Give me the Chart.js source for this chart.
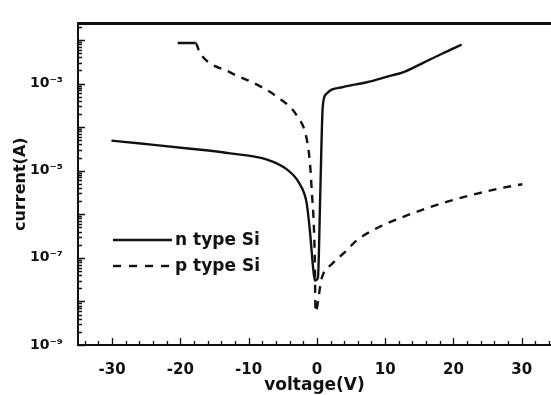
<!DOCTYPE html>
<html>
<head>
<meta charset="utf-8">
<script src="https://cdn.jsdelivr.net/npm/chart.js@4.4.1/dist/chart.umd.min.js"></script>
<style>
  html, body { margin: 0; padding: 0; background: #fff; }
</style>
</head>
<body>
<canvas id="chart" width="551" height="395"></canvas>
<script>
// I-V curves
const nVoltage = [-30.1, -25.8, -18.5, -12.7, -7.3, -4.4, -2.5, -1.5, -1.0, -0.6, -0.3, 0.15, 0.5, 0.85, 1.3, 3.8, 7.3, 10.7, 12.6, 15.5, 18.4, 21.2];
const nCurrent = [4.9e-5, 4.2e-5, 3.2e-5, 2.5e-5, 1.8e-5, 1.07e-5, 4.9e-6, 1.8e-6, 3.8e-7, 7.1e-8, 3.0e-8, 3.5e-8, 3.2e-6, 2.8e-4, 5.6e-4, 8.3e-4, 1.07e-3, 1.5e-3, 1.8e-3, 2.95e-3, 4.9e-3, 7.8e-3];

const pVoltage = [-20.4, -17.8, -17.1, -12.7, -8.8, -5.8, -2.9, -1.5, -1.0, -0.7, -0.5, -0.3, -0.2, 0.7, 2.2, 4.1, 5.8, 8.2, 10.7, 13.1, 16.1, 19.1, 22.8, 26.7, 30.1];
const pCurrent = [8.5e-3, 8.5e-3, 4.9e-3, 1.8e-3, 9.5e-4, 4.9e-4, 1.8e-4, 5.4e-5, 1.4e-5, 2.6e-6, 8.5e-7, 8.5e-8, 5.8e-9, 3.4e-8, 7.2e-8, 1.35e-7, 2.5e-7, 4.3e-7, 6.6e-7, 9.3e-7, 1.38e-6, 1.95e-6, 2.8e-6, 3.9e-6, 4.9e-6];

const xTicks = [-30, -20, -10, 0, 10, 20, 30];
const yDecades = [-9, -8, -7, -6, -5, -4, -3, -2];
const yLabelled = [-9, -7, -5, -3];

const INK = '#111';
const FONT = 'DejaVu Sans';
const SUP = { '-': '\u207B', '3': '\u00B3', '5': '\u2075', '7': '\u2077', '9': '\u2079' };

function toPoints(xs, ys) {
  return xs.map((v, i) => ({ x: v, y: ys[i] }));
}

// inward tick marks on the frame plus the heavy top border
const frameTicks = {
  id: 'frameTicks',
  afterDraw(chart) {
    const { ctx, chartArea: a, scales: { x, y } } = chart;
    ctx.save();
    ctx.strokeStyle = INK;
    ctx.lineWidth = 1.3;
    ctx.beginPath();
    yDecades.forEach((d) => {
      for (let m = 1; m < 10; m++) {
        const v = m * Math.pow(10, d);
        if (v < y.min || v > y.max) continue;
        const py = Math.round(y.getPixelForValue(v)) + 0.5;
        const len = m === 1 ? 7 : 4;
        ctx.moveTo(a.left, py);
        ctx.lineTo(a.left + len, py);
      }
    });
    for (let v = -34; v <= 34; v += 2) {
      const px = Math.round(x.getPixelForValue(v)) + 0.5;
      const len = v % 10 === 0 ? 7 : 4;
      ctx.moveTo(px, a.bottom);
      ctx.lineTo(px, a.bottom - len);
    }
    ctx.stroke();
    ctx.lineWidth = 3;
    ctx.beginPath();
    ctx.moveTo(a.left - 1, a.top);
    ctx.lineTo(a.right, a.top);
    ctx.stroke();
    ctx.restore();
  }
};

// legend sitting inside the plot, lower left
const insetLegend = {
  id: 'insetLegend',
  afterDatasetsDraw(chart) {
    const { ctx, chartArea: a } = chart;
    const rows = [240, 266];
    chart.data.datasets.forEach((ds, i) => {
      const yy = rows[i];
      ctx.save();
      ctx.strokeStyle = ds.borderColor;
      ctx.lineWidth = ds.borderWidth;
      ctx.setLineDash(ds.borderDash ? [8, 8] : []);
      ctx.beginPath();
      ctx.moveTo(a.left + 35, yy);
      ctx.lineTo(a.left + 94, yy);
      ctx.stroke();
      ctx.setLineDash([]);
      ctx.fillStyle = INK;
      ctx.font = 'bold 17px "' + FONT + '"';
      ctx.textBaseline = 'middle';
      ctx.fillText(ds.label, a.left + 97, yy + 1);
      ctx.restore();
    });
  }
};

Chart.defaults.font.family = FONT;
Chart.defaults.color = INK;

new Chart(document.getElementById('chart'), {
  type: 'line',
  data: {
    datasets: [
      {
        label: 'n type Si',
        data: toPoints(nVoltage, nCurrent),
        borderColor: INK,
        borderWidth: 2.4,
        pointRadius: 0,
        fill: false,
        cubicInterpolationMode: 'monotone'
      },
      {
        label: 'p type Si',
        data: toPoints(pVoltage, pCurrent),
        borderColor: INK,
        borderWidth: 2.4,
        borderDash: [8, 7],
        segment: {
          borderDash: (ctx) => (ctx.p0DataIndex === 0 ? [] : undefined)
        },
        pointRadius: 0,
        fill: false,
        cubicInterpolationMode: 'monotone'
      }
    ]
  },
  options: {
    responsive: false,
    animation: false,
    devicePixelRatio: 1,
    layout: { padding: { top: 14, right: 0, left: 0, bottom: 0 } },
    plugins: {
      legend: { display: false },
      tooltip: { enabled: false }
    },
    scales: {
      x: {
        type: 'linear',
        min: -35,
        max: 34.3,
        afterBuildTicks: (s) => { s.ticks = xTicks.map((v) => ({ value: v })); },
        afterFit: (s) => { s.height = 50; },
        grid: { display: false, drawTicks: false },
        border: { display: true, color: INK, width: 2 },
        ticks: {
          padding: 16,
          autoSkip: false,
          maxRotation: 0,
          color: INK,
          font: { size: 15, weight: 'bold' },
          callback: (v) => String(v)
        },
        title: {
          display: true,
          text: 'voltage(V)',
          color: INK,
          font: { size: 17, weight: 'bold', lineHeight: 1 },
          padding: { top: 0, bottom: 1 }
        }
      },
      y: {
        type: 'logarithmic',
        min: 1e-9,
        max: 2.4e-2,
        afterBuildTicks: (s) => { s.ticks = yDecades.map((d) => ({ value: Math.pow(10, d) })); },
        afterFit: (s) => { s.width = 78; },
        grid: { display: false, drawTicks: false },
        border: { display: true, color: INK, width: 2 },
        ticks: {
          padding: 15,
          autoSkip: false,
          color: INK,
          font: { size: 14, weight: 'bold' },
          callback: (v) => {
            const e = Math.round(Math.log10(v));
            if (!yLabelled.includes(e)) return '';
            return '10' + String(e).split('').map((c) => SUP[c]).join('');
          }
        },
        title: {
          display: true,
          text: 'current(A)',
          color: INK,
          font: { size: 16, weight: 'bold' },
          padding: { top: 11, bottom: 0 }
        }
      }
    }
  },
  plugins: [frameTicks, insetLegend]
});
</script>
</body>
</html>
